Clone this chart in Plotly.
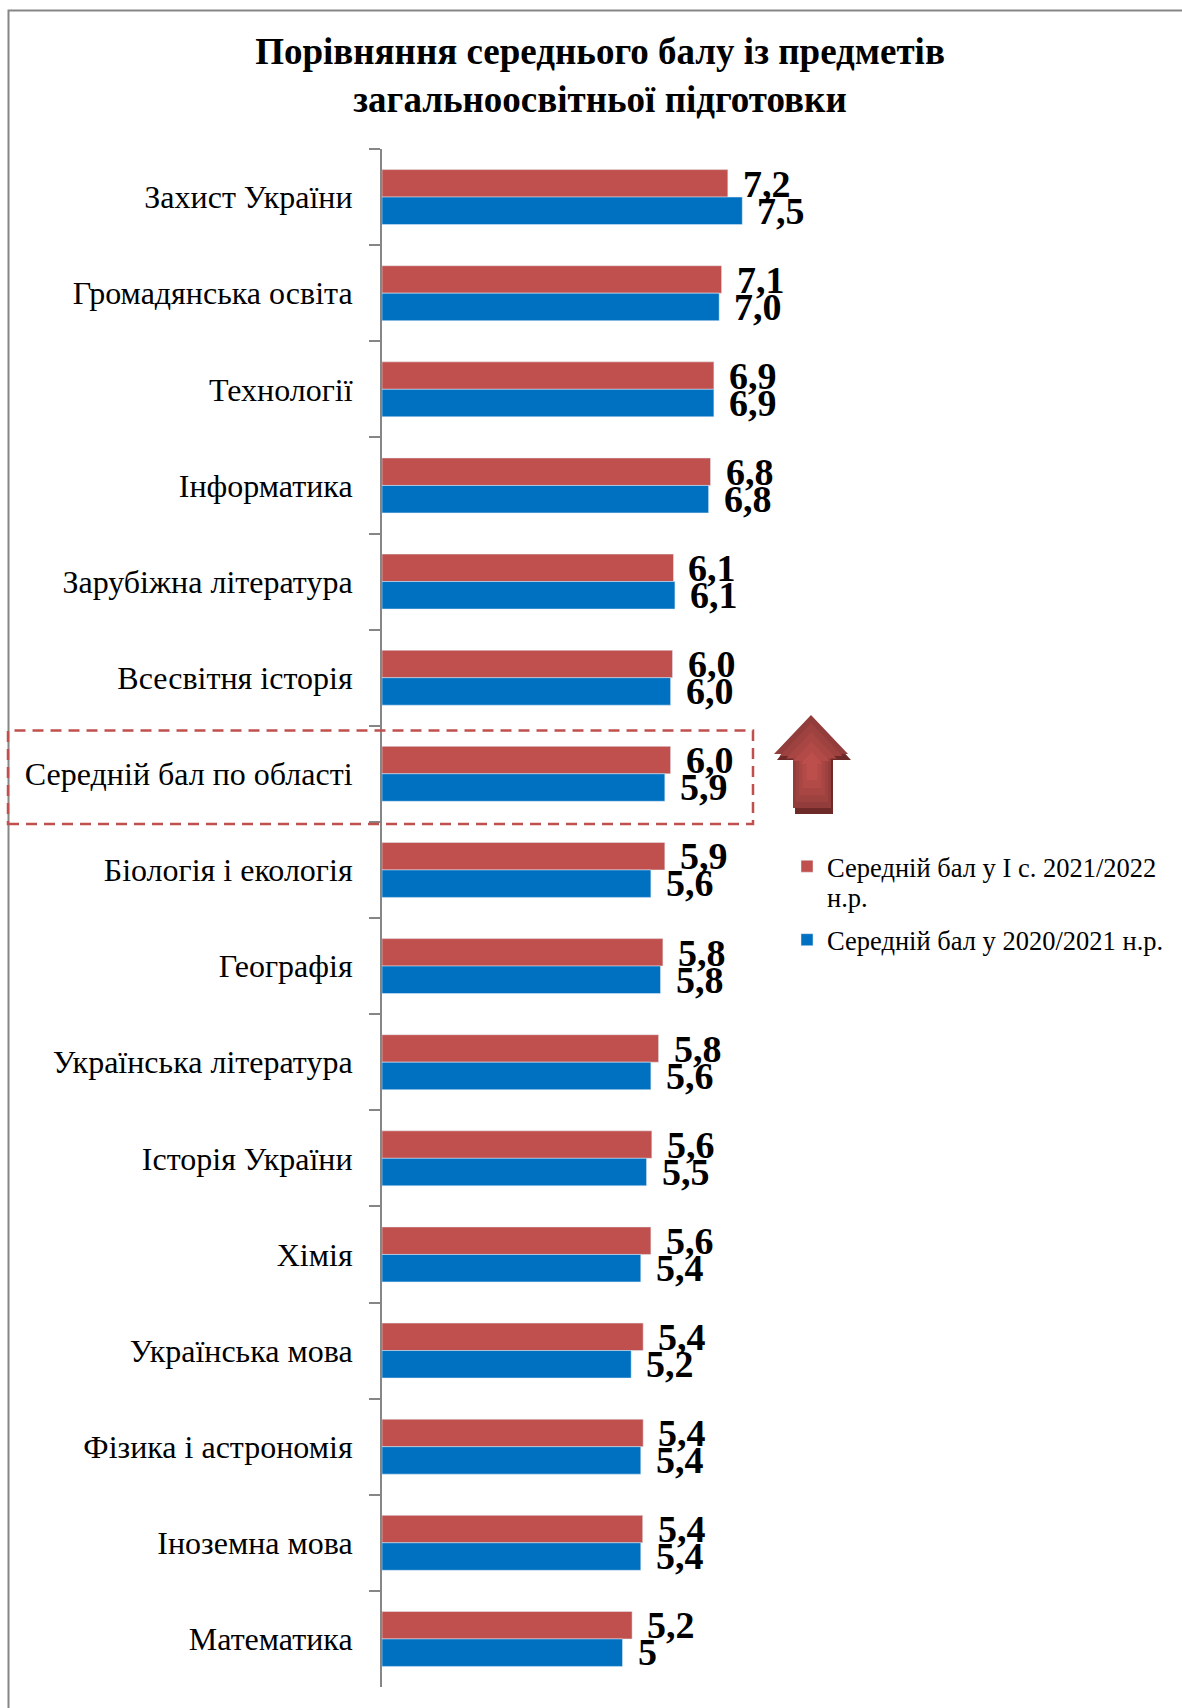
import plotly.graph_objects as go

categories = ["Захист України", "Громадянська освіта", "Технології", "Інформатика",
              "Зарубіжна література", "Всесвітня історія", "Середній бал по області",
              "Біологія і екологія", "Географія", "Українська література", "Історія України",
              "Хімія", "Українська мова", "Фізика і астрономія", "Іноземна мова", "Математика"]
values_2122 = [7.19, 7.06, 6.90, 6.83, 6.06, 6.04, 6.0, 5.88, 5.84, 5.75, 5.61, 5.59, 5.43, 5.43, 5.42, 5.2]
values_2021 = [7.49, 7.01, 6.90, 6.79, 6.09, 6.00, 5.88, 5.59, 5.79, 5.59, 5.50, 5.38, 5.18, 5.38, 5.38, 5.0]
labels_2122 = ["7,2", "7,1", "6,9", "6,8", "6,1", "6,0", "6,0", "5,9", "5,8", "5,8", "5,6", "5,6", "5,4", "5,4", "5,4", "5,2"]
labels_2021 = ["7,5", "7,0", "6,9", "6,8", "6,1", "6,0", "5,9", "5,6", "5,8", "5,6", "5,5", "5,4", "5,2", "5,4", "5,4", "5"]
name_2122 = "Середній бал у І с. 2021/2022"
name_2122_wrap = "н.р."
name_2021 = "Середній бал у 2020/2021 н.р."
title = "Порівняння середнього балу із предметів<br>загальноосвітньої підготовки"

W, H = 1182, 1708
ML, MR, MT, MB = 382, 319, 149, 21
RED, BLUE, GRAY = "#C0504D", "#0070C0", "#868686"
SERIF = "Liberation Serif, Times New Roman, serif"

fig = go.Figure()
fig.add_bar(y=categories, x=values_2122, orientation="h", name=name_2122, marker_color=RED, legendgroup="a")
fig.add_bar(y=categories, x=values_2021, orientation="h", name=name_2021, marker_color=BLUE, legendgroup="b")


def px(x):
    return (x - ML) / (W - ML - MR)


def py(y):
    return 1 - (y - MT) / (H - MT - MB)


def path(points):
    return "M" + " L".join(f"{px(a):.5f},{py(b):.5f}" for a, b in points) + " Z"


shapes = []
# outer frame
shapes.append(dict(type="path", xref="paper", yref="paper", layer="below",
                   path=f"M{px(8.5)},{py(H + 5)} L{px(8.5)},{py(10.5)} L{px(W + 5)},{py(10.5)}",
                   line=dict(color=GRAY, width=2)))
# dashed highlight box
shapes.append(dict(type="rect", xref="paper", yref="paper", x0=px(8), x1=px(753), y0=py(824), y1=py(730.5),
                   line=dict(color=RED, width=2.5, dash="11px,7px"), fillcolor="rgba(0,0,0,0)"))
# arrow: extruded shadow, then nested outlines that brighten towards the centre
shapes.append(dict(type="path", xref="paper", yref="paper",
                   path=path([(811, 717), (851, 760), (833, 760), (833, 814), (795, 814), (795, 760), (777, 760)]),
                   fillcolor="#6E2A28", line_width=0))
arrow = [(811, 715), (848, 754), (831, 754), (831, 808), (793, 808), (793, 754), (774, 754)]
centre = (812, 768)
for scale, colour in [(1.0, "#923D3B"), (0.85, "#9E4240"), (0.68, "#A84644"), (0.5, "#B24A47"), (0.3, "#BC4E4B")]:
    pts = [(centre[0] + (a - centre[0]) * scale, centre[1] + (b - centre[1]) * scale) for a, b in arrow]
    shapes.append(dict(type="path", xref="paper", yref="paper", path=path(pts), fillcolor=colour, line_width=0))

annotations = []
for cat, v2, l2, v1, l1 in zip(categories, values_2122, labels_2122, values_2021, labels_2021):
    annotations.append(dict(x=v2, y=cat, xref="x", yref="y", text=f"<b>{l2}</b>", showarrow=False,
                            xanchor="left", yanchor="middle", xshift=13, yshift=13.5, font=dict(size=38, color="black", family=SERIF)))
    annotations.append(dict(x=v1, y=cat, xref="x", yref="y", text=f"<b>{l1}</b>", showarrow=False,
                            xanchor="left", yanchor="middle", xshift=13, yshift=-13.5, font=dict(size=38, color="black", family=SERIF)))
annotations.append(dict(x=px(827), y=py(898), xref="paper", yref="paper", text=name_2122_wrap, showarrow=False,
                        xanchor="left", yanchor="middle", xshift=-2, font=dict(size=26.5, color="black", family=SERIF)))

fig.update_layout(
    width=W, height=H, paper_bgcolor="white", plot_bgcolor="white",
    margin=dict(l=ML, r=MR, t=MT, b=MB, pad=0),
    barmode="group", bargap=1.5 / 3.5, bargroupgap=0,
    font=dict(family=SERIF, color="black"),
    title=dict(text=f"<b>{title}</b>", x=600 / W, xanchor="center", y=1 - 64 / H, yanchor="middle",
               font=dict(size=37, family=SERIF, color="black")),
    xaxis=dict(visible=False, range=[0, 10]),
    yaxis=dict(autorange="reversed", showline=True, linecolor=GRAY, linewidth=2, ticks="outside",
               tickson="boundaries", ticklen=11, tickwidth=2, tickcolor=GRAY, showgrid=False,
               tickfont=dict(size=32, color="black", family=SERIF), ticklabelstandoff=21),
    legend=dict(x=px(787), y=py(842.5), xanchor="left", yanchor="top", bgcolor="rgba(0,0,0,0)", traceorder="grouped",
                font=dict(size=26.5, family=SERIF, color="black"), tracegroupgap=36),
    shapes=shapes, annotations=annotations,
)
fig.write_html("out.html", config={"displayModeBar": False}, post_script="document.body.style.margin='0';")
